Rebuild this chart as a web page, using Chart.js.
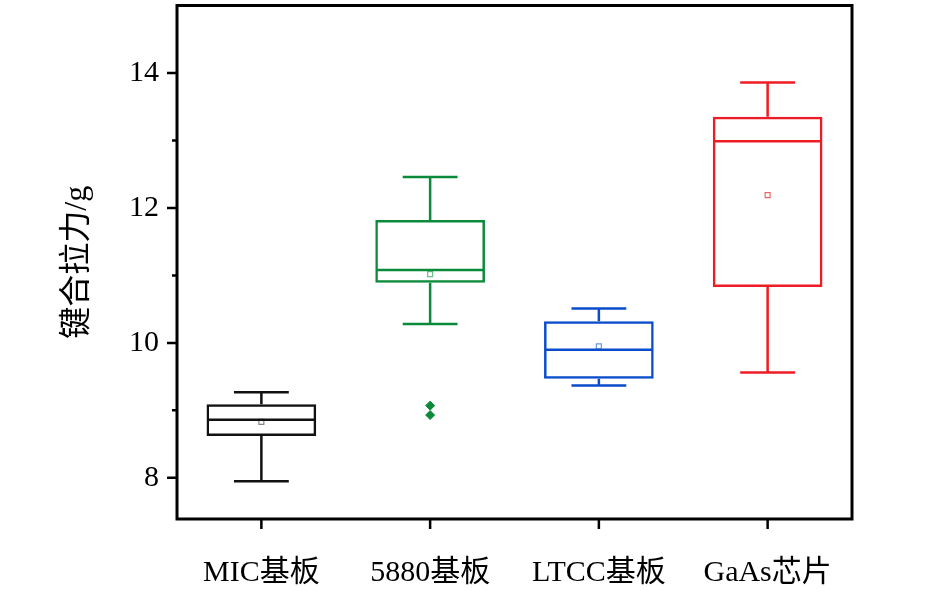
<!DOCTYPE html>
<html>
<head>
<meta charset="utf-8">
<script src="https://cdn.jsdelivr.net/npm/chart.js@4"></script>
<style>
  body { margin: 0; background: #fff; }
  #wrap { width: 945px; height: 591px; }
</style>
</head>
<body>
<div id="wrap"><canvas id="box"></canvas></div>
<script>
const categories = ['MIC基板', '5880基板', 'LTCC基板', 'GaAs芯片']
const whiskerLow = [7.95, 10.28, 9.37, 9.56]
const q1 = [8.62, 10.89, 9.47, 10.83]
const median = [8.86, 11.08, 9.90, 12.99]
const q3 = [9.09, 11.82, 10.32, 13.35]
const whiskerHigh = [9.27, 12.46, 10.51, 13.86]
const means = [8.83, 11.02, 9.95, 12.19]
const outliers5880 = [9.07, 8.93]

const colors = ['#111111', '#0b8a3b', '#0a4ccc', '#ee1c24']
const meanColors = ['#888888', '#6cc08a', '#6f96e0', '#ee6666']
const serif = "'Liberation Serif', 'Noto Sans CJK SC', serif"

const boxPlugin = {
  id: 'boxParts',
  afterDatasetsDraw(chart) {
    const ctx = chart.ctx
    const x = chart.scales.x
    const y = chart.scales.y
    const area = chart.chartArea
    const bar = chart.getDatasetMeta(0).data
    ctx.save()
    ctx.lineCap = 'butt'
    categories.forEach((c, i) => {
      const cx = x.getPixelForValue(i)
      const half = bar[i].width / 2
      const cap = half / 2
      ctx.strokeStyle = colors[i]
      ctx.lineWidth = 2.5
      ctx.beginPath()
      // whiskers
      ctx.moveTo(cx, y.getPixelForValue(q3[i]))
      ctx.lineTo(cx, y.getPixelForValue(whiskerHigh[i]))
      ctx.moveTo(cx, y.getPixelForValue(q1[i]))
      ctx.lineTo(cx, y.getPixelForValue(whiskerLow[i]))
      // caps
      ctx.moveTo(cx - cap, y.getPixelForValue(whiskerHigh[i]))
      ctx.lineTo(cx + cap, y.getPixelForValue(whiskerHigh[i]))
      ctx.moveTo(cx - cap, y.getPixelForValue(whiskerLow[i]))
      ctx.lineTo(cx + cap, y.getPixelForValue(whiskerLow[i]))
      // median
      ctx.moveTo(cx - half + 1, y.getPixelForValue(median[i]))
      ctx.lineTo(cx + half - 1, y.getPixelForValue(median[i]))
      ctx.stroke()
    })

    // frame and ticks
    ctx.strokeStyle = '#000'
    ctx.lineWidth = 3
    ctx.strokeRect(area.left, area.top, area.right - area.left, area.bottom - area.top)
    ctx.lineWidth = 2.5
    ctx.beginPath()
    for (let v = 8; v <= 14; v++) {
      const py = y.getPixelForValue(v)
      const len = v % 2 === 0 ? 10 : 5
      ctx.moveTo(area.left - len, py)
      ctx.lineTo(area.left, py)
    }
    categories.forEach((c, i) => {
      const px = x.getPixelForValue(i)
      ctx.moveTo(px, area.bottom)
      ctx.lineTo(px, area.bottom + 10)
    })
    ctx.stroke()
    ctx.restore()
  }
}

new Chart(document.getElementById('box'), {
  type: 'bar',
  data: {
    labels: categories,
    datasets: [
      {
        label: 'box',
        data: categories.map((c, i) => [q1[i], q3[i]]),
        backgroundColor: 'rgba(0,0,0,0)',
        borderColor: colors,
        borderWidth: 2.5,
        borderSkipped: false,
        categoryPercentage: 1,
        barPercentage: 0.65
      },
      {
        type: 'scatter',
        label: 'mean',
        data: categories.map((c, i) => ({ x: c, y: means[i] })),
        pointStyle: 'rect',
        radius: 3.5,
        borderWidth: 1.2,
        borderColor: meanColors,
        backgroundColor: 'rgba(0,0,0,0)'
      },
      {
        type: 'scatter',
        label: 'outliers',
        data: outliers5880.map(v => ({ x: categories[1], y: v })),
        pointStyle: 'rectRot',
        radius: 4.5,
        borderWidth: 1,
        borderColor: colors[1],
        backgroundColor: colors[1]
      }
    ]
  },
  options: {
    responsive: true,
    maintainAspectRatio: false,
    animation: false,
    layout: {
      padding: { top: 2, right: 93, left: 0, bottom: 0 }
    },
    plugins: {
      legend: { display: false },
      tooltip: { enabled: false }
    },
    scales: {
      x: {
        grid: { display: false, drawTicks: false },
        border: { display: false },
        ticks: {
          color: '#000',
          padding: 36,
          maxRotation: 0,
          font: { family: serif, size: 30 }
        },
        afterFit: (scale) => {
          scale.height = 72
          scale.paddingLeft = 0
          scale.paddingRight = 0
        }
      },
      y: {
        min: 7.39,
        max: 15.0,
        grid: { display: false, drawTicks: false },
        border: { display: false },
        ticks: {
          stepSize: 1,
          color: '#000',
          padding: 18,
          font: { family: serif, size: 30 },
          callback: (v) => (v % 2 === 0 ? v : '')
        },
        title: {
          display: true,
          text: '键合拉力/g',
          color: '#000',
          padding: { top: 58, bottom: 0 },
          font: { family: serif, size: 32 }
        },
        afterFit: (scale) => {
          scale.width = 177
          scale.paddingTop = 0
          scale.paddingBottom = 0
        }
      }
    }
  },
  plugins: [boxPlugin]
})
</script>
</body>
</html>
